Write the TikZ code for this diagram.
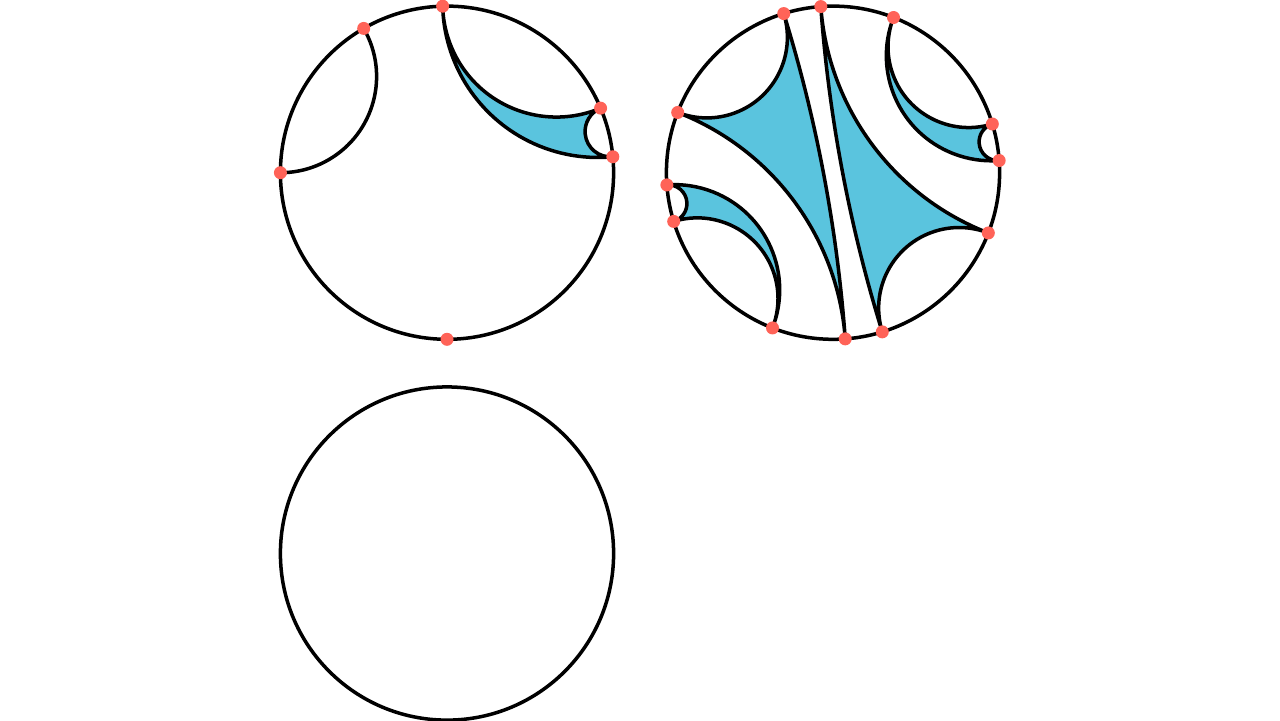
\documentclass[tikz,border=0pt]{standalone}
\definecolor{dotc}{RGB}{255,99,88}
\definecolor{fillc}{RGB}{90,196,222}
\tikzset{
  geoline/.style={line width=0.035cm, draw=black, line join=round},
  tri/.style={geoline, fill=fillc},
  bdry/.style={line width=0.035cm, draw=black},
  vdot/.style={fill=dotc}
}
% geodesic arc from boundary angle #1 to #2 (0 < #2-#1 < 180)
\newcommand\geo[2]{arc[start angle={#1+270}, end angle={#2+90}, radius={1.665cm*tan((#2-#1)/2)}]}
% same geodesic, traversed from #2 to #1
\newcommand\geoR[2]{arc[start angle={#2+90}, end angle={#1+270}, radius={1.665cm*tan((#2-#1)/2)}]}
\newcommand\idealdots[1]{\foreach \a in {#1} {\fill[vdot] (\a:1.665cm) circle[radius=0.065cm];}}
\begin{document}
\begin{tikzpicture}[x=0.01cm,y=0.01cm]
\useasboundingbox (0,0) rectangle (1280,-720);

% ---------- top-left disk ----------
\begin{scope}[shift={(447,-172.7)}]
  \path[tri] (5.5:1.665cm) \geo{5.5}{22.8} \geo{22.8}{91.5} \geoR{5.5}{91.5} -- cycle;
  \path[geoline] (120:1.665cm) \geo{120}{180};
  \draw[bdry] (0,0) circle[radius=1.665cm];
  \idealdots{91.5,120,180,270,22.8,5.5}
\end{scope}

% ---------- top-right disk ----------
\begin{scope}[shift={(833,-172.7)}]
  \path[tri] (107.2:1.665cm) \geo{107.2}{158.8} \geo{158.8}{274.2} \geoR{107.2}{274.2} -- cycle;
  \path[tri] (287.2:1.665cm) \geo{287.2}{338.8} \geo{338.8}{454.2} \geoR{287.2}{454.2} -- cycle;
  \path[tri] (4.2:1.665cm) \geo{4.2}{17} \geo{17}{68.7} \geoR{4.2}{68.7} -- cycle;
  \path[tri] (184.2:1.665cm) \geo{184.2}{197} \geo{197}{248.7} \geoR{184.2}{248.7} -- cycle;
  \draw[bdry] (0,0) circle[radius=1.665cm];
  \idealdots{107.2,94.2,68.7,158.8,17,4.2,287.2,274.2,248.7,338.8,197,184.2}
\end{scope}

% ---------- bottom-left disk ----------
\begin{scope}[shift={(447,-553.5)}]
  \draw[bdry] (0,0) circle[radius=1.665cm];
\end{scope}
\end{tikzpicture}
\end{document}
